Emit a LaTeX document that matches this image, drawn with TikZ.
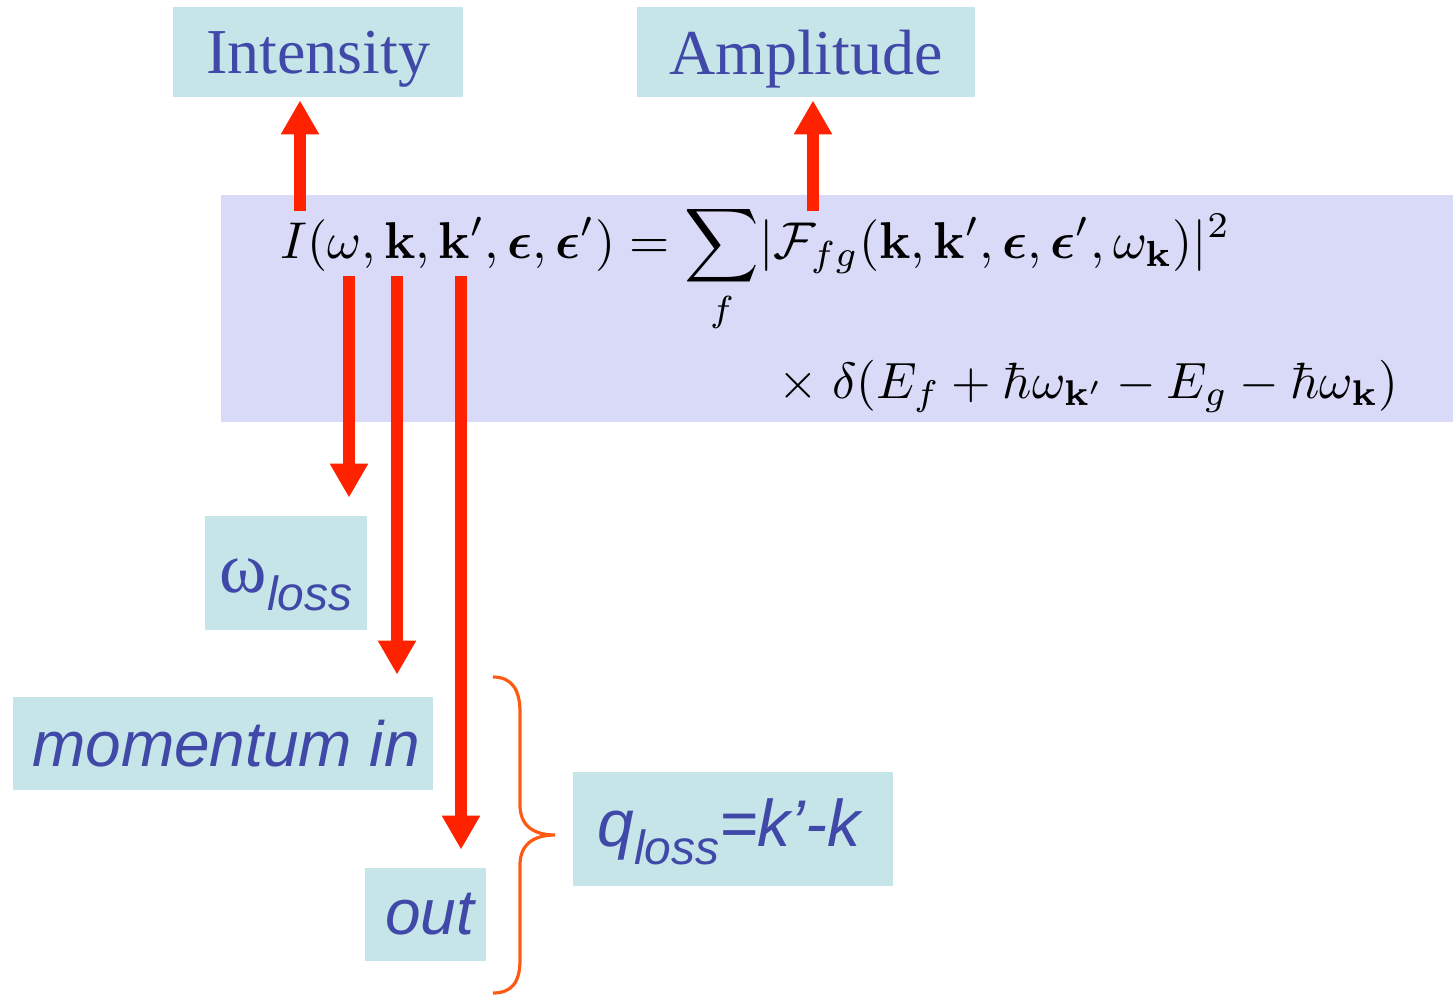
\documentclass[tikz,border=0pt]{standalone}
\usepackage{amsmath}
\usepackage[no-math]{fontspec}
\newfontfamily\serifA{Liberation Serif}
\newfontfamily\sansA{Liberation Sans}
\usetikzlibrary{arrows.meta}
\definecolor{txtblue}{RGB}{64,72,168}
\definecolor{boxfill}{RGB}{198,229,232}
\definecolor{eqfill}{RGB}{216,218,248}
\definecolor{arrred}{RGB}{255,34,0}
\definecolor{braceor}{RGB}{255,90,20}
\newcommand{\lowerby}[2]{\raisebox{-#1}[\height][\depth]{#2}}
\tikzset{
  lbl/.style={fill=boxfill, text=txtblue, inner sep=0pt, align=center},
  serlbl/.style={lbl, font=\serifA\fontsize{32}{36}\selectfont},
  sanslbl/.style={lbl, font=\sansA\itshape\fontsize{32}{36}\selectfont},
  redarrow/.style={draw=arrred, line width=6pt, -{Triangle[length=17pt,width=18pt]}},
  bracestyle/.style={draw=braceor, line width=1.6pt},
  eqline/.style={inner sep=0pt, text=black},
}
\begin{document}
\begin{tikzpicture}[x=0.5pt,y=-0.5pt]
\useasboundingbox (0,0) rectangle (1453,995);
% equation box
\node[fill=eqfill, inner sep=0pt, minimum width=616pt, minimum height=113.5pt] (eq) at (837,308.5) {};
\node[eqline, anchor=base west] (eq1) at (280,259)
  {\resizebox{475pt}{!}{$\displaystyle I(\omega,\mathbf{k},\mathbf{k}',\boldsymbol{\epsilon},\boldsymbol{\epsilon}') = \sum_f\!|\mathcal{F}_{fg}(\mathbf{k},\mathbf{k}',\boldsymbol{\epsilon},\boldsymbol{\epsilon}',\omega_{\mathbf{k}})|^2$}};
\node[eqline, anchor=base west] (eq2) at (778,398)
  {\resizebox{310pt}{!}{$\times\;\delta(E_f+\hbar\omega_{\mathbf{k}'}-E_g-\hbar\omega_{\mathbf{k}})$}};
% label boxes
\node[serlbl, minimum width=145pt, minimum height=45pt] (int) at (318,52) {\lowerby{3.5pt}{Intensity}};
\node[serlbl, minimum width=169pt, minimum height=45pt] (amp) at (806,52) {\lowerby{3.5pt}{Amplitude}};
\node[lbl, minimum width=81pt, minimum height=57pt] (om) at (286,573)
  {\lowerby{6pt}{{\serifA\fontsize{36}{38}\selectfont ω}\raisebox{-9pt}{\sansA\itshape\fontsize{24}{26}\selectfont loss}}};
\node[sanslbl, minimum width=210pt, minimum height=46.5pt] (mom) at (223,743.5) {\hspace{3pt}momentum in};
\node[sanslbl, minimum width=60.5pt, minimum height=46.5pt] (out) at (425.5,914.5) {\hspace{4pt}out};
\node[sanslbl, minimum width=160pt, minimum height=57pt] (q) at (733,829)
  {\lowerby{1.5pt}{\fontsize{33}{36}\selectfont q\raisebox{-9pt}{\fontsize{24}{26}\selectfont loss}=k’-k\hspace{4pt}}};
% arrow start points
\coordinate (sI) at (300,211);
\coordinate (sA) at (813,211);
\coordinate (sw) at (349,276);
\coordinate (sk) at (397,276);
\coordinate (skp) at (461,276);
% arrows
\draw[redarrow, shorten >=1.5pt] (sI) -- (sI |- int.south);
\draw[redarrow, shorten >=1.5pt] (sA) -- (sA |- amp.south);
\draw[redarrow, shorten >=9pt] (sw) -- (sw |- om.north);
\draw[redarrow, shorten >=11pt] (sk) -- (sk |- mom.north);
\draw[redarrow, shorten >=9pt] (skp) -- (skp |- out.north);
% brace
\draw[bracestyle] (493,677) .. controls (512,677) and (520,690) .. (520,712)
  -- (520,805) .. controls (520,826) and (534,835) .. (555,835)
  .. controls (534,835) and (520,844) .. (520,865)
  -- (520,960) .. controls (520,982) and (512,993) .. (493,993);
\end{tikzpicture}
\end{document}
